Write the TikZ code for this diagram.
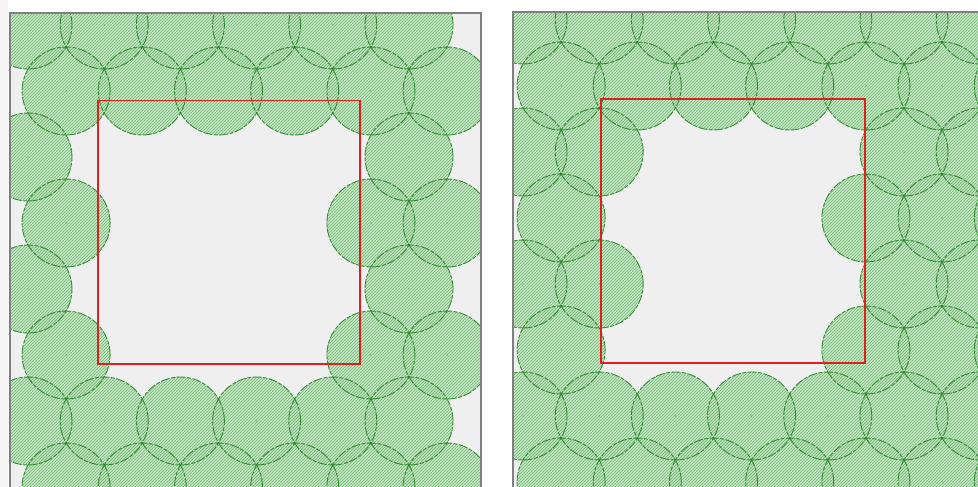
\documentclass[tikz,border=0pt]{standalone}
\usetikzlibrary{patterns}
\definecolor{panelbg}{RGB}{239,239,239}
\definecolor{circfill}{RGB}{196,228,196}
\definecolor{hatchcol}{RGB}{118,186,118}
\definecolor{edgecol}{RGB}{30,125,30}
\definecolor{sqred}{RGB}{226,30,30}
\definecolor{framecol}{RGB}{128,128,128}
\def\LeftList{28/25,104.2/25,180.4/25,256.6/25,332.8/25,409/25,
66.1/91,142.3/91,218.5/91,294.7/91,370.9/91,447.1/91,
28/157,409/157,
66.1/223,370.9/223,447.1/223,
28/289,409/289,
66.1/355,370.9/355,447.1/355,
28/421,104.2/421,180.4/421,256.6/421,332.8/421,409/421,
66.1/487,142.3/487,218.5/487,294.7/487,370.9/487,447.1/487}
\def\RightList{523/20,599.2/20,675.4/20,751.6/20,827.8/20,904/20,980.2/20,
561.1/86,637.3/86,713.5/86,789.7/86,865.9/86,942.1/86,1018.3/86,
523/152,599.2/152,904/152,980.2/152,
561.1/218,865.9/218,942.1/218,1018.3/218,
523/284,599.2/284,904/284,980.2/284,
561.1/350,865.9/350,942.1/350,1018.3/350,
523/416,599.2/416,675.4/416,751.6/416,827.8/416,904/416,980.2/416,
561.1/482,637.3/482,713.5/482,789.7/482,865.9/482,942.1/482,1018.3/482}
\tikzset{
  discfill/.style={fill=circfill},
  dischatch/.style={pattern=north east lines, pattern color=hatchcol},
  discedge/.style={draw=edgecol, draw opacity=0.85, line width=0.9pt, dash pattern=on 9pt off 1.5pt on 4pt off 1.5pt},
  discdot/.style={fill=edgecol, fill opacity=0.5},
  redsquare/.style={draw=sqred, line width=1.6pt},
  panelframe/.style={draw=framecol, line width=1.4pt}
}
\begin{document}
\begin{tikzpicture}[x=1pt,y=-1pt]
\useasboundingbox (0,0) rectangle (978,487);
\fill[white] (0,0) rectangle (978,487);
\fill[panelbg!60!white] (0,0) rectangle (8,487);
% ---------- left panel ----------
\begin{scope}
  \clip (10,13) rectangle (481,495);
  \fill[panelbg] (10,13) rectangle (481,495);
  \foreach \x/\y in \LeftList {\fill[discfill] (\x,\y) circle (44pt);}
  \foreach \x/\y in \LeftList {\fill[dischatch] (\x,\y) circle (44pt);}
  \foreach \x/\y in \LeftList {\draw[discedge] (\x,\y) circle (44pt);}
  \foreach \x/\y in \LeftList {\fill[discdot] (\x,\y) circle (0.7pt);}
\end{scope}
\draw[redsquare] (98,100.5) rectangle (360,364);
\draw[panelframe] (10,500) -- (10,13) -- (481,13) -- (481,500);
% ---------- right panel ----------
\begin{scope}
  \clip (513,12) rectangle (990,495);
  \fill[panelbg] (513,12) rectangle (990,495);
  \foreach \x/\y in \RightList {\fill[discfill] (\x,\y) circle (44pt);}
  \foreach \x/\y in \RightList {\fill[dischatch] (\x,\y) circle (44pt);}
  \foreach \x/\y in \RightList {\draw[discedge] (\x,\y) circle (44pt);}
  \foreach \x/\y in \RightList {\fill[discdot] (\x,\y) circle (0.7pt);}
\end{scope}
\draw[redsquare] (601,99) rectangle (865,363);
\draw[panelframe] (513,500) -- (513,12) -- (990,12);
\end{tikzpicture}
\end{document}
